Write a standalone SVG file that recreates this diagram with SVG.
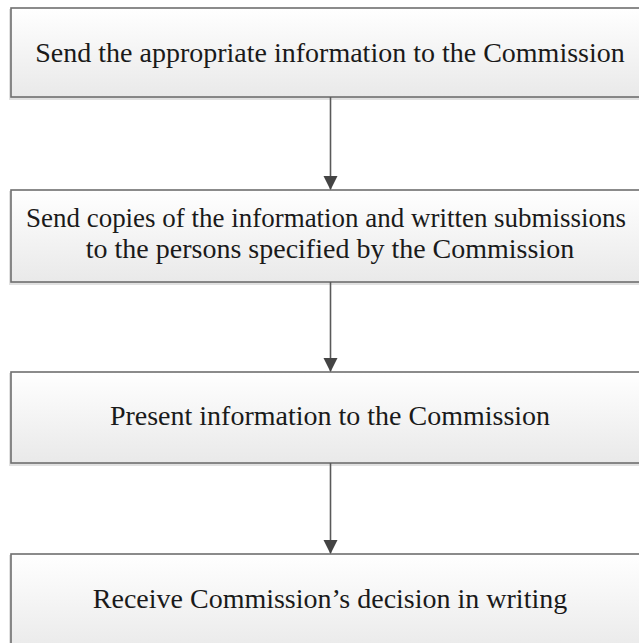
<svg xmlns="http://www.w3.org/2000/svg" width="639" height="643" viewBox="0 0 639 643">
<style>
.box{fill:url(#g);stroke:#6f6f6f;stroke-width:1.6}
.sh{fill:#c8c8c8;opacity:0.55}
.t{font-family:"Liberation Serif","Times New Roman",serif;font-size:28px;fill:#1a1a1a;text-anchor:middle}
.c{stroke:#5a5a5a;stroke-width:1.6;fill:none;marker-end:url(#a)}
</style>
<defs>
<linearGradient id="g" x1="0" y1="0" x2="0" y2="1">
<stop offset="0" stop-color="#ffffff"/>
<stop offset="1" stop-color="#e9e9e9"/>
</linearGradient>
<marker id="a" markerUnits="userSpaceOnUse" markerWidth="14" markerHeight="16" refX="13" refY="7" orient="auto">
<path d="M0,0 L14,7 L0,14 Z" fill="#444"/>
</marker>
</defs>
<rect width="639" height="643" fill="#fff"/>
<g id="n1">
<rect class="sh" x="9" y="9" width="650" height="91"/>
<rect class="box" x="11" y="8" width="650" height="89"/>
<text class="t" x="330" y="62">Send the appropriate information to the Commission</text>
</g>
<g id="n2">
<rect class="sh" x="9" y="191" width="650" height="94"/>
<rect class="box" x="11" y="190" width="650" height="92"/>
<text class="t" x="326" y="227" textLength="600" lengthAdjust="spacingAndGlyphs">Send copies of the information and written submissions</text>
<text class="t" x="330" y="258">to the persons specified by the Commission</text>
</g>
<g id="n3">
<rect class="sh" x="9" y="373" width="650" height="93"/>
<rect class="box" x="11" y="372" width="650" height="91"/>
<text class="t" x="330" y="425">Present information to the Commission</text>
</g>
<g id="n4">
<rect class="sh" x="9" y="555" width="650" height="100"/>
<rect class="box" x="11" y="554" width="650" height="100"/>
<text class="t" x="330" y="608">Receive Commission’s decision in writing</text>
</g>
<g id="connectors">
<line class="c" x1="330.5" y1="97" x2="330.5" y2="189"/>
<line class="c" x1="330.5" y1="282" x2="330.5" y2="371"/>
<line class="c" x1="330.5" y1="463" x2="330.5" y2="553"/>
</g>
</svg>
